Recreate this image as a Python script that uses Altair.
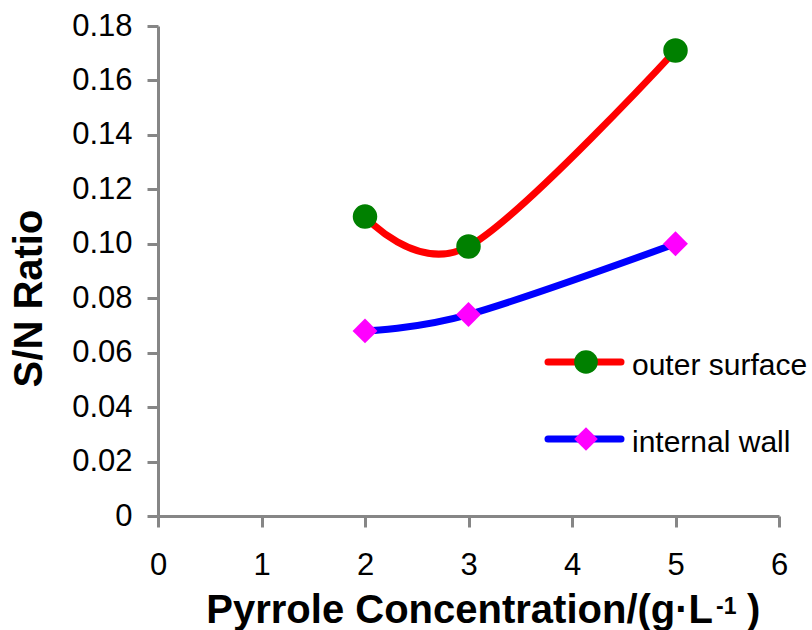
import altair as alt
import pandas as pd

# ---- data ----
conc = [2, 3, 5]
outer_surface = [0.110, 0.099, 0.171]
internal_wall = [0.068, 0.074, 0.100]
series_names = ["outer surface", "internal wall"]
x_ticks = [0, 1, 2, 3, 4, 5, 6]
y_ticks = [0, 0.02, 0.04, 0.06, 0.08, 0.10, 0.12, 0.14, 0.16, 0.18]
x_title_main = "Pyrrole Concentration/(g\u00b7L"
x_title_sup = "-1"
x_title_end = ")"
y_title = "S/N Ratio"

FONT = "Liberation Sans"
AXIS_GRAY = "#868686"

df_outer = pd.DataFrame({"x": conc, "y": outer_surface, "series": series_names[0]})
df_inner = pd.DataFrame({"x": conc, "y": internal_wall, "series": series_names[1]})

xs = alt.Scale(domain=[0, 6], nice=False, zero=False)
ys = alt.Scale(domain=[0, 0.18], nice=False)

x_axis = alt.Axis(values=x_ticks, title=None, grid=False, labelPadding=23, labelFontSize=31,
                  labelFlush=False)
y_axis = alt.Axis(
    values=y_ticks,
    title=y_title,
    grid=False,
    labelExpr="datum.value == 0 ? '0' : format(datum.value, '.2f')",
    labelPadding=15,
    labelFontSize=31,
    labelFlush=False,
    titleFont=FONT,
    titleFontSize=40,
    titleFontWeight="bold",
    titleColor="black",
    titleAngle=270,
    titleX=-129,
    titleY=272,
    titleAlign="center",
    titleBaseline="middle",
)

x_enc = alt.X("x:Q", scale=xs, axis=x_axis)
y_enc = alt.Y("y:Q", scale=ys, axis=y_axis)

line_outer = alt.Chart(df_outer).mark_line(
    interpolate="cardinal", tension=0, color="#FF0000", strokeWidth=7, strokeCap="round"
).encode(x=x_enc, y=y_enc)
line_inner = alt.Chart(df_inner).mark_line(
    interpolate="cardinal", tension=0, color="#0000FF", strokeWidth=7, strokeCap="round"
).encode(x=x_enc, y=y_enc)
pts_outer = alt.Chart(df_outer).mark_point(
    filled=True, shape="circle", size=600, color="#008000", opacity=1
).encode(x=x_enc, y=y_enc)
pts_inner = alt.Chart(df_inner).mark_point(
    filled=True, shape="diamond", size=620, color="#FF00FF", opacity=1
).encode(x=x_enc, y=y_enc)

# ---- manual legend (line + marker + label) ----
def legend_item(name, line_color, marker_color, shape, ly):
    d = pd.DataFrame({"name": [name]})
    rule = alt.Chart(d).mark_rule(color=line_color, strokeWidth=7, strokeCap="round").encode(
        x=alt.value(390), x2=alt.value(463), y=alt.value(ly)
    )
    mk = alt.Chart(d).mark_point(filled=True, shape=shape, size=560, color=marker_color, opacity=1).encode(
        x=alt.value(428), y=alt.value(ly)
    )
    tx = alt.Chart(d).mark_text(
        align="left", baseline="middle", font=FONT, fontSize=30, color="black"
    ).encode(x=alt.value(474), y=alt.value(ly + 4), text="name:N")
    return [rule, mk, tx]

legend_layers = legend_item(series_names[0], "#FF0000", "#008000", "circle", 336) + legend_item(
    series_names[1], "#0000FF", "#FF00FF", "diamond", 413
)

# ---- x-axis title with superscript ----
td = pd.DataFrame({"a": [x_title_main], "b": [x_title_sup], "c": [x_title_end]})
t_main = alt.Chart(td).mark_text(
    align="right", baseline="alphabetic", font=FONT, fontSize=40, fontWeight="bold", color="black"
).encode(x=alt.value(555), y=alt.value(597), text="a:N")
t_sup = alt.Chart(td).mark_text(
    align="left", baseline="alphabetic", font=FONT, fontSize=23, fontWeight="bold", color="black"
).encode(x=alt.value(558), y=alt.value(588), text="b:N")
t_end = alt.Chart(td).mark_text(
    align="left", baseline="alphabetic", font=FONT, fontSize=40, fontWeight="bold", color="black"
).encode(x=alt.value(589), y=alt.value(597), text="c:N")

chart = alt.layer(
    line_outer, line_inner, pts_outer, pts_inner, *legend_layers, t_main, t_sup, t_end
).properties(
    width=621,
    height=490,
    autosize=alt.AutoSizeParams(type="none"),
    padding={"left": 158, "top": 26, "right": 33, "bottom": 114},
    background="white",
).configure_view(stroke=None).configure_axis(
    domainColor=AXIS_GRAY,
    domainWidth=3,
    tickColor=AXIS_GRAY,
    tickWidth=3,
    tickSize=11,
    labelFont=FONT,
    labelColor="black",
    labelFontSize=31,
)

chart.save("out.html", embed_options={"renderer": "svg", "actions": False})
